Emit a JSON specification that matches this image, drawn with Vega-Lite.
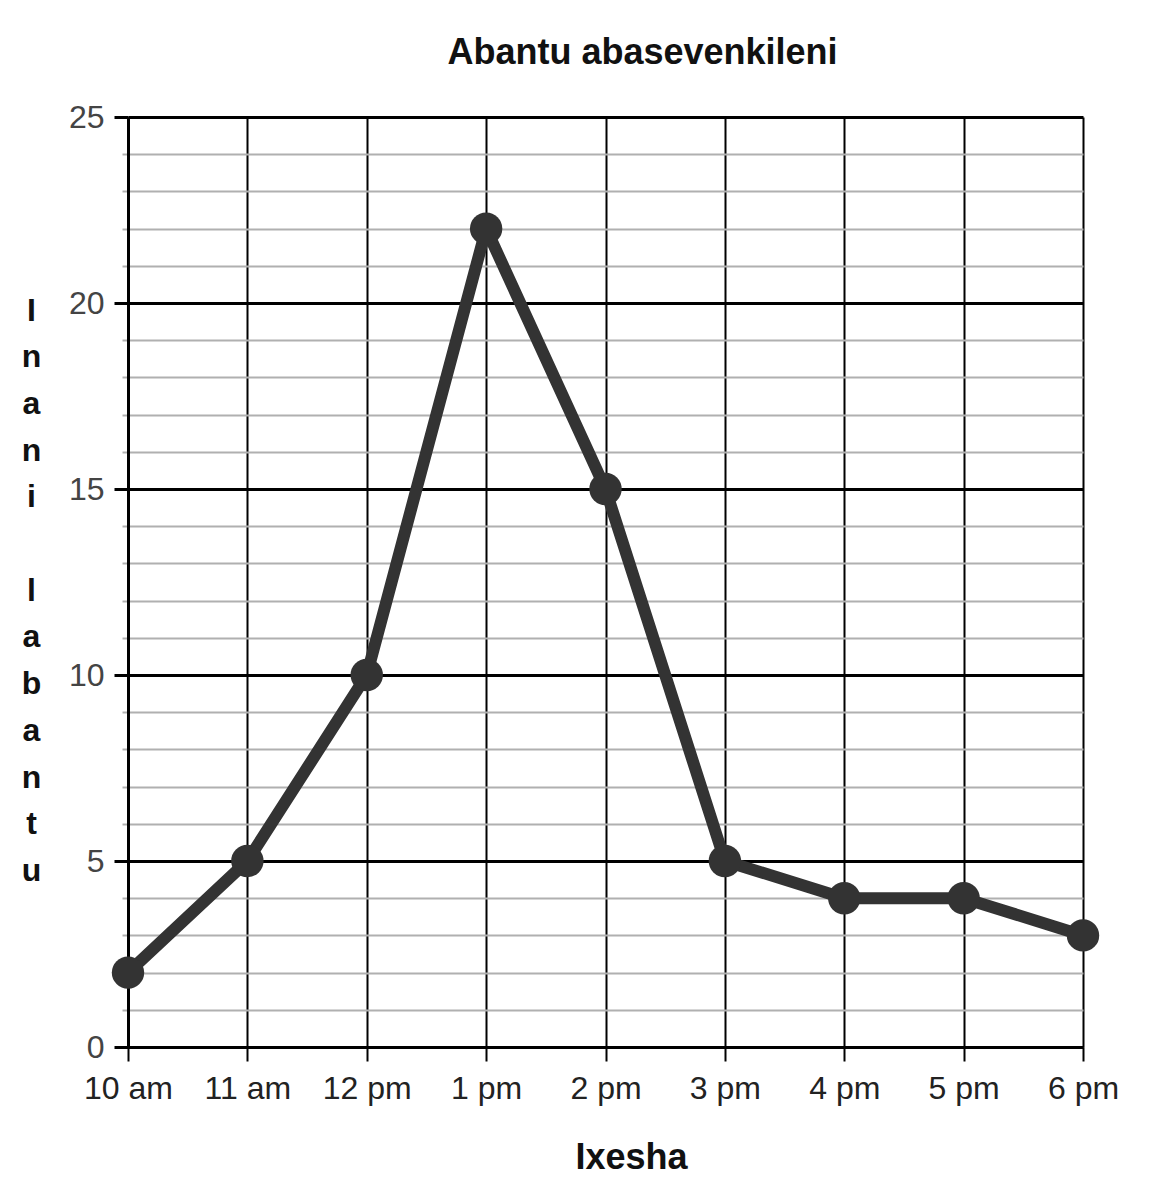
{
  "$schema": "https://vega.github.io/schema/vega-lite/v6.json",
  "autosize": {"type": "none"},
  "width": 955,
  "height": 930,
  "padding": {"left": 128, "top": 117, "right": 71, "bottom": 137},
  "background": "white",
  "config": {"view": {"stroke": null}, "font": "Liberation Sans"},
  "title": {
    "text": "Abantu abasevenkileni",
    "frame": "group",
    "anchor": "middle",
    "baseline": "alphabetic",
    "offset": 1,
    "dx": 37,
    "fontSize": 36,
    "fontWeight": "bold",
    "color": "#111"
  },
  "data": {
    "values": [
      {"time": "10 am", "people": 2},
      {"time": "11 am", "people": 5},
      {"time": "12 pm", "people": 10},
      {"time": "1 pm", "people": 22},
      {"time": "2 pm", "people": 15},
      {"time": "3 pm", "people": 5},
      {"time": "4 pm", "people": 4},
      {"time": "5 pm", "people": 4},
      {"time": "6 pm", "people": 3}
    ]
  },
  "encoding": {
    "x": {
      "field": "time",
      "type": "ordinal",
      "sort": null,
      "scale": {"type": "point", "padding": 0},
      "axis": {
        "title": "Ixesha",
        "titleFontSize": 36,
        "titleFontWeight": "bold",
        "titleColor": "#111",
        "titleX": 503,
        "titleY": 121,
        "titleBaseline": "alphabetic",
        "labelAngle": 0,
        "labelFontSize": 32,
        "labelColor": "#222",
        "labelPadding": 12,
        "tickSize": 14,
        "tickColor": "black",
        "tickWidth": 2,
        "domainColor": "black",
        "domainWidth": 3,
        "grid": true,
        "gridColor": "black",
        "gridWidth": 2
      }
    },
    "y": {
      "field": "people",
      "type": "quantitative",
      "scale": {"domain": [0, 25], "nice": false},
      "axis": {
        "title": ["I", "n", "a", "n", "i", "\u200b", "l", "a", "b", "a", "n", "t", "u"],
        "titleAngle": 0,
        "titleFontSize": 32,
        "titleFontWeight": "bold",
        "titleColor": "#111",
        "titleLineHeight": 46.7,
        "titleAlign": "center",
        "titleBaseline": "top",
        "titleX": -97,
        "titleY": 178,
        "values": [0, 1, 2, 3, 4, 5, 6, 7, 8, 9, 10, 11, 12, 13, 14, 15, 16, 17, 18, 19, 20, 21, 22, 23, 24, 25],
        "labelExpr": "datum.value % 5 === 0 ? datum.label : ''",
        "labelFontSize": 32,
        "labelColor": "#444",
        "labelPadding": 10,
        "tickSize": {"condition": {"test": "datum.value % 5 === 0", "value": 14}, "value": 6},
        "tickColor": {"condition": {"test": "datum.value % 5 === 0", "value": "black"}, "value": "#b0b0b0"},
        "tickWidth": {"condition": {"test": "datum.value % 5 === 0", "value": 3}, "value": 2},
        "domainColor": "black",
        "domainWidth": 3,
        "grid": true,
        "gridColor": {"condition": {"test": "datum.value % 5 === 0", "value": "black"}, "value": "#b0b0b0"},
        "gridWidth": {"condition": {"test": "datum.value % 5 === 0", "value": 3}, "value": 2}
      }
    }
  },
  "layer": [
    {"mark": {"type": "line", "color": "#333", "strokeWidth": 12, "strokeJoin": "round"}},
    {"mark": {"type": "point", "filled": true, "color": "#333", "opacity": 1, "size": 1050}}
  ]
}
